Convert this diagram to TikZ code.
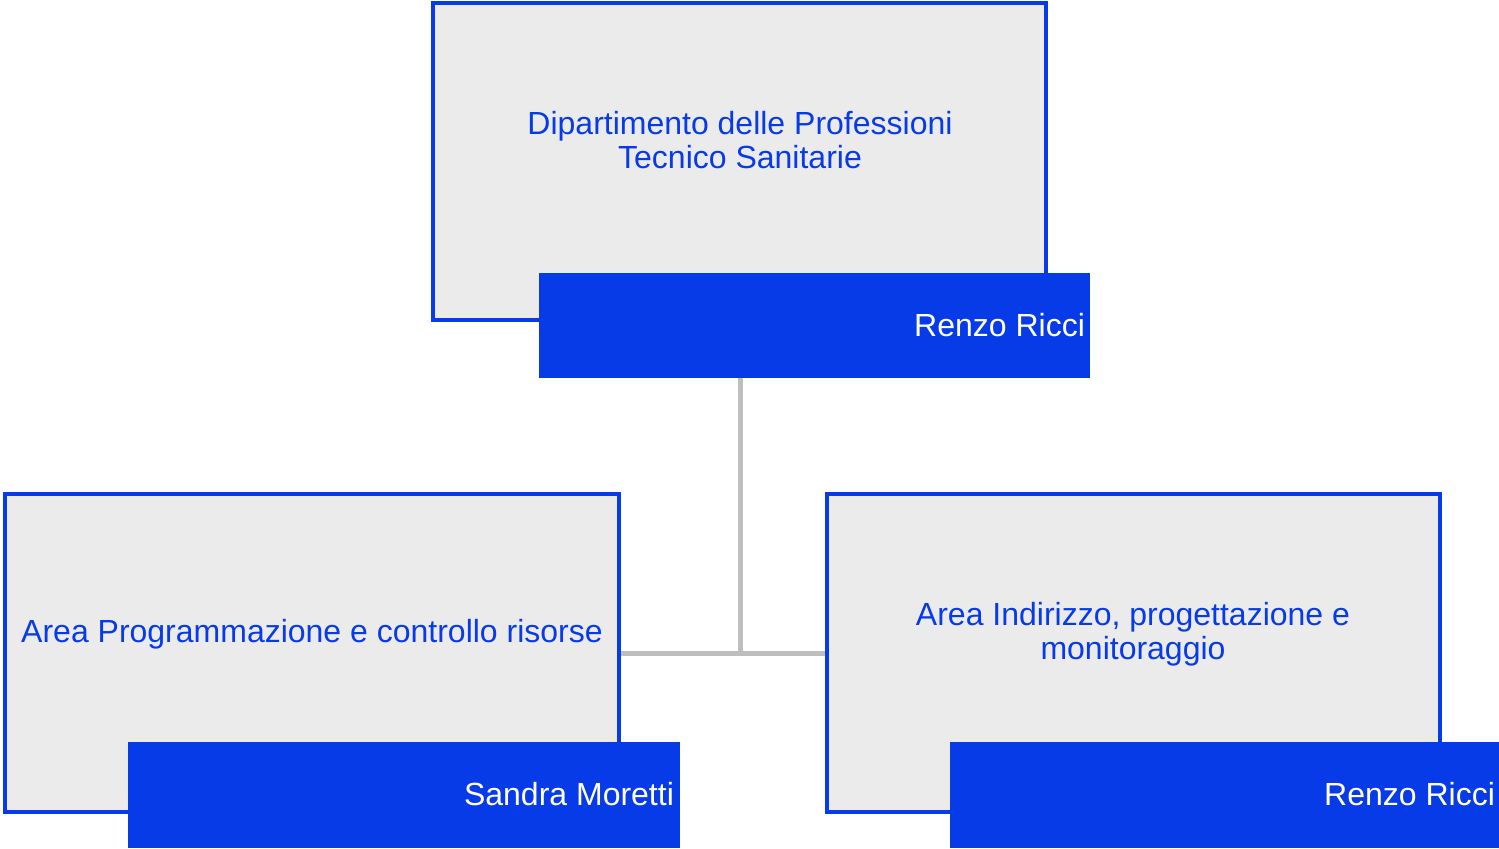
\documentclass[tikz,border=0pt]{standalone}
\usepackage{fontspec}
\setmainfont{Liberation Sans}
\usetikzlibrary{positioning}
\definecolor{orgblue}{RGB}{8,59,232}
\definecolor{boxgray}{RGB}{235,235,235}
\definecolor{linegray}{RGB}{190,190,190}
\tikzset{
  unitbox/.style={draw=orgblue,fill=boxgray,line width=2pt},
  namebar/.style={fill=orgblue},
  unitlabel/.style={text=orgblue,font=\fontsize{16}{17}\selectfont,align=center},
  namelabel/.style={text=white,font=\fontsize{16}{17}\selectfont,anchor=east},
  link/.style={draw=linegray,line width=2.5pt}
}
\begin{document}
\begin{tikzpicture}[x=0.5pt,y=-0.5pt]
  \useasboundingbox (0,0) rectangle (1499,848);
  % connectors
  \coordinate (hub) at (740,653);
  \draw[link] (740,378) -- (hub);
  \draw[link] (619,653) -- (827,653);
  % top unit
  \draw[unitbox] (433,3) rectangle (1046,320);
  \fill[namebar] (539,273) rectangle (1090,378);
  \node[unitlabel] (dept) at (740,140)
    {Dipartimento delle Professioni\\Tecnico Sanitarie};
  \node[namelabel] (deptname) at (1092,325) {Renzo Ricci};
  % left unit
  \draw[unitbox] (5,494) rectangle (619,812);
  \fill[namebar] (128,742) rectangle (680,848);
  \node[unitlabel] (areaprog) at (312,634)
    {Area Programmazione e controllo risorse};
  \node[namelabel] (progname) at (681,794) {Sandra Moretti};
  % right unit
  \draw[unitbox] (827,494) rectangle (1440,812);
  \fill[namebar] (950,742) rectangle (1499,848);
  \node[unitlabel] (areaind) at (1133,634)
    {Area Indirizzo, progettazione e\\monitoraggio};
  \node[namelabel] (indname) at (1502,794) {Renzo Ricci};
\end{tikzpicture}
\end{document}
